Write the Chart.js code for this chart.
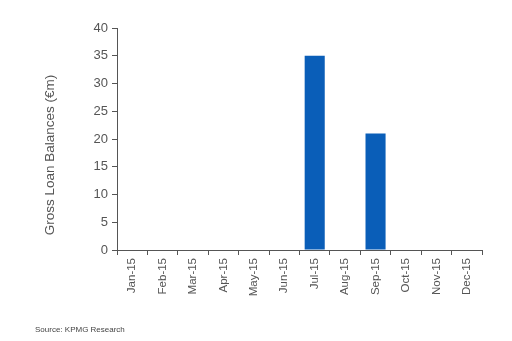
<!DOCTYPE html>
<html>
<head>
<meta charset="utf-8">
<script src="https://cdn.jsdelivr.net/npm/chart.js@4/dist/chart.umd.min.js"></script>
<style>
  body { margin: 0; background: #fff; }
  #wrap { position: relative; width: 512px; height: 341px; }
  #source { position: absolute; left: 35px; top: 325px; font: 8px "Liberation Sans", Arial, sans-serif; color: #444; }
</style>
</head>
<body>
<div id="wrap">
  <canvas id="myChart" width="512" height="341"></canvas>
  <div id="source">Source: KPMG Research</div>
</div>
<script>
var months = ["Jan-15", "Feb-15", "Mar-15", "Apr-15", "May-15", "Jun-15", "Jul-15", "Aug-15", "Sep-15", "Oct-15", "Nov-15", "Dec-15"];
var loanBalances = [0, 0, 0, 0, 0, 0, 35, 0, 21, 0, 0, 0];
var yTicks = [0, 5, 10, 15, 20, 25, 30, 35, 40];
var yTitle = 'Gross Loan Balances (€m)';

var axisColor = '#555';
var textColor = '#555';

// y title drawn by hand, it sits lower than the axis middle in the original
var yTitlePlugin = {
    id: 'yTitle',
    afterDraw: function (chart) {
        var c = chart.ctx;
        c.save();
        c.translate(50, 155);
        c.rotate(-Math.PI / 2);
        c.font = '13.5px "Liberation Sans"';
        c.fillStyle = textColor;
        c.textAlign = 'center';
        c.textBaseline = 'middle';
        c.fillText(yTitle, 0, 0);
        c.restore();
    }
};

var ctx = document.getElementById('myChart').getContext('2d');
var chart = new Chart(ctx, {
    type: 'bar',
    data: {
        labels: months,
        datasets: [{
            label: "Gross Loan Balances",
            data: loanBalances,
            backgroundColor: 'rgb(10, 94, 184)',
            barPercentage: 0.66,
            categoryPercentage: 1
        }]
    },
    plugins: [yTitlePlugin],
    options: {
        responsive: false,
        animation: false,
        layout: { padding: { left: 42, right: 30, top: 28, bottom: 0 } },
        plugins: {
            legend: { display: false },
            tooltip: { enabled: false }
        },
        scales: {
            x: {
                grid: { display: true, drawOnChartArea: false, drawTicks: true, tickLength: 5, color: axisColor, offset: true },
                border: { display: true, color: axisColor },
                ticks: {
                    color: textColor,
                    font: { family: 'Liberation Sans', size: 11.5 },
                    minRotation: 90,
                    maxRotation: 90,
                    padding: 3
                },
                afterFit: function (scale) { scale.height = 91; }
            },
            y: {
                min: 0,
                max: 40,
                afterBuildTicks: function (scale) {
                    scale.ticks = yTicks.map(function (v) { return { value: v }; });
                },
                grid: { display: true, drawOnChartArea: false, drawTicks: true, tickLength: 5, color: axisColor },
                border: { display: true, color: axisColor },
                ticks: {
                    color: textColor,
                    font: { family: 'Liberation Sans', size: 13 },
                    padding: 4
                },
                afterFit: function (scale) { scale.width = 75; }
            }
        }
    }
});
</script>
</body>
</html>
